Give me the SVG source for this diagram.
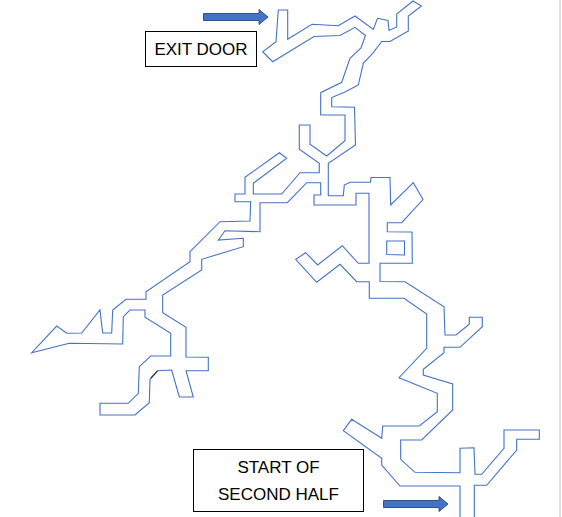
<svg xmlns="http://www.w3.org/2000/svg" width="562" height="517" viewBox="0 0 562 517">
<style>
.cave{fill:none;stroke:#4472C4;stroke-width:1.1;stroke-linejoin:miter}
.box{fill:#fff;stroke:#000;stroke-width:1}
.lbl{font-family:"Liberation Sans",Arial,sans-serif;font-size:17px;fill:#000;text-anchor:middle}
.arrow{fill:#4472C4;stroke:#2F528F;stroke-width:1}
</style>
<rect width="562" height="517" fill="#fff"/>
<line x1="560" y1="0" x2="560" y2="517" stroke="#d4d4d4" stroke-width="1.5"/>
<g id="connectors">
<polyline class="cave" points="460,517 460,486 400,486 381.7,465 381.7,458.3 343.3,430.7 351.7,419.3 381.7,438.3 382.7,426 419.3,426 437.3,411.7 437.3,393.3 399,377.7 426.7,348.3 426.7,314 404,298.3 369.3,298.3 369.3,281.7 356.7,281.7 340,264.3 316.7,282.3 295.7,259.3 305.7,252.7 317.7,265 342.3,245.7 358.3,263.3 369,263.3 369,193.3 356,193.3 356,205 314,205 314,195 320.7,195 320.7,182.7 306.7,182.7 287.3,202.7 260,202.7 260,231.7 225,230.7 218.3,240 243.3,238.3 243.3,246.7 201.7,259.3 201.7,270 162.7,295 162.7,312.7 186,327.3 186,357 208.3,357.3 208.3,370.7 186,370.7 193.3,397 179.3,397 171.7,370 157.7,370.7 150,379.3 149.3,402.7 135,415 100,415 100,403.3 128.3,403.3 138.3,393.3 139.3,366.7 150.7,356 170.7,356 170.7,333.3 145,317.3 145,310 130,310 123.3,316.7 122.7,344 69.3,343.3 31.7,352.7 56.7,326 66.7,333.3 81.7,333 100,310 102.7,333 111.7,333 112.7,310 126,299.3 146,299.3 146,291.7 190,261.7 190,251.7 220,221.7 250,221 250.7,201.7 235,201.7 235,194 245,194 245,177.3 279.3,152.7 286.7,158.3 253.3,183.3 253.3,194 281.7,194 300,172.7 319.3,172.7 319.3,163.3 299.3,149.3 299.3,125 310,125 310,144.3 326.7,156 345,140.7 345,115 320.7,115 320.7,92.7 341.7,82.3 350,58.3 361,48 363.5,41 365.5,35.5 355,27.3 340,35.5 314,36.5 272.7,61.7 262.7,51.7 276,41.7 278.3,10 287.7,10 287.7,39.3 312,24.3 338.3,25.7 355,16 373.3,29.5 377.5,18.3 388,20.5 389,30.5 396.7,27 396.7,14 413,1 421.5,6 408.3,16 408.3,31 390,41.5 381.7,41.5 372.7,53.3 363.3,63.3 358.3,85 345,92 331.7,97.5 331.7,106.7 354.5,107.3 355.5,145 328.3,163.3 328.3,195.7 343.3,195.7 344.3,185 350,182.3 370.5,182.3 371,177.5 390,177.5 390.7,205 413.3,182.7 423,199.5 401.7,222.7 387.3,222.7 387.3,231.7 412,232 412.3,263.3 380,263.3 380,281.5 405,281.7 444,306.7 445,335 456,335 469.3,324.3 469.3,317.3 482.3,317.3 482.3,326.7 460,347.3 444,347.3 444,352.7 423.3,369.3 423.3,375 452.7,384 452.7,410 421.7,440 400.7,440 400.7,459.3 415,472.3 460,472.7 460,448.3 474,447.7 475,474.3 481.7,474.3 504,448.3 504,430 539.3,430 539.3,439.3 516.7,439.3 516.7,450 486.7,485.3 474.3,485.3 474.3,517"/>
<polygon class="cave" points="386.7,241 404.5,241 404.5,255 386.7,254.5"/>
<line x1="157.5" y1="370.8" x2="151" y2="378" stroke="#333" stroke-width="1.2"/>
</g>
<g id="exit-arrow"><polygon class="arrow" points="203.5,13.5 259,13.5 259,9.5 268,17 259,24.5 259,20.5 203.5,20.5"/></g>
<g id="start-arrow"><polygon class="arrow" points="383.5,500.5 439,500.5 439,496.5 448,504 439,511.5 439,507.5 383.5,507.5"/></g>
<g id="exit-door"><rect class="box" x="145.5" y="31.5" width="111" height="35"/><text class="lbl" x="201" y="55">EXIT DOOR</text></g>
<g id="start-second-half"><rect class="box" x="193.5" y="449.5" width="170" height="62"/><text class="lbl" x="278.5" y="473">START OF</text><text class="lbl" x="278.5" y="500">SECOND HALF</text></g>
</svg>
